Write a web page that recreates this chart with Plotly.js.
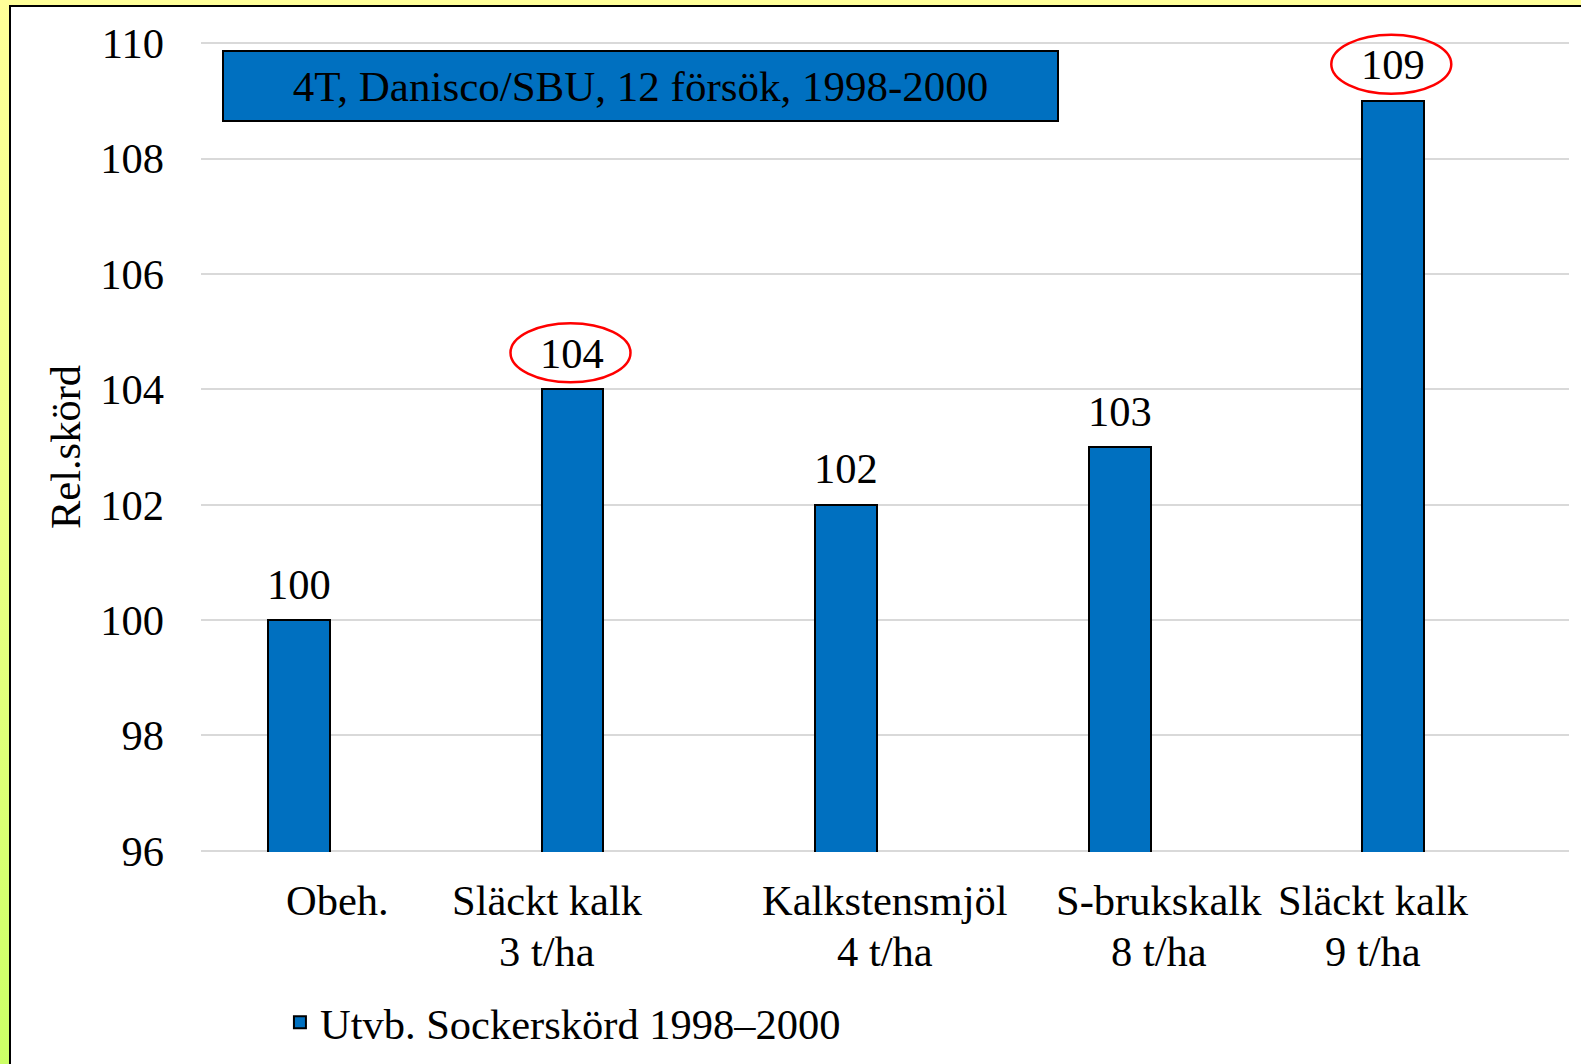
<!DOCTYPE html>
<html>
<head>
<meta charset="utf-8">
<script src="https://cdn.plot.ly/plotly-3.0.1.min.js"></script>
<style>
  html, body { margin: 0; padding: 0; width: 1581px; height: 1064px; overflow: hidden; }
  body { background: linear-gradient(180deg, #ffff99 0%, #eeff88 45%, #ccff66 100%); position: relative; }
  #frame { position: absolute; left: 9px; top: 5px; width: 1620px; height: 1120px; background: #ffffff; border: 2px solid #000; box-sizing: border-box; }
  #chart { position: absolute; left: 0; top: 0; width: 1581px; height: 1064px; }
</style>
</head>
<body>
<div id="frame"></div>
<div id="chart"></div>
<script>
// ---- data ----
const categories = ['Obeh.', 'Släckt kalk<br>3 t/ha', 'Kalkstensmjöl<br>4 t/ha', 'S-brukskalk<br>8 t/ha', 'Släckt kalk<br>9 t/ha'];
const values = [100, 104, 102, 103, 109];
const highlighted = [false, true, false, false, true];
const seriesName = 'Utvb. Sockerskörd 1998–2000';
const boxTitle = '4T, Danisco/SBU, 12 försök, 1998-2000';
const yTitle = 'Rel.skörd';
const yTicks = [96, 98, 100, 102, 104, 106, 108, 110];
const yRange = [95.98, 110.02];

// ---- style ----
const FONT = 'Liberation Serif, Times New Roman, serif';
const FS = 42.5;
const BLUE = '#0070C0';
const barWidth = 0.2266;
const barOffset = -0.2555;
const barShift = barOffset + barWidth / 2;
const labelXShift = [0, -64, 0, 0, -59];
const labelLineY = [-48.5, -99];

const trace = {
  type: 'bar',
  x: categories,
  y: values,
  name: seriesName,
  width: barWidth,
  offset: barOffset,
  marker: { color: BLUE, line: { color: '#000', width: 2 } },
  hoverinfo: 'y'
};

const annotations = [];
// category labels (one annotation per line, to match the line spacing)
categories.forEach((c, i) => {
  c.split('<br>').forEach((line, k) => {
    annotations.push({
      xref: 'x', yref: 'paper', x: i, y: 0,
      xanchor: 'center', yanchor: 'middle', yshift: labelLineY[k], xshift: labelXShift[i],
      text: line, showarrow: false,
      font: { family: FONT, size: FS, color: '#000' }
    });
  });
});
// value labels
values.forEach((v, i) => {
  annotations.push({
    xref: 'x', yref: 'y', x: i + barShift, y: v,
    xanchor: 'center', yanchor: 'middle', yshift: 36,
    text: String(v), showarrow: false,
    font: { family: FONT, size: FS, color: '#000' }
  });
});
// box title
annotations.push({
  xref: 'paper', yref: 'paper', x: 0.3213, y: 0.9452,
  xanchor: 'center', yanchor: 'middle',
  text: boxTitle, showarrow: false,
  width: 833, height: 68, borderpad: 0,
  bgcolor: BLUE, bordercolor: '#000', borderwidth: 2,
  font: { family: FONT, size: 43, color: '#000' }
});

const shapes = [];
values.forEach((v, i) => {
  if (!highlighted[i]) return;
  shapes.push({
    type: 'circle', xref: 'x', yref: 'paper',
    xsizemode: 'pixel', ysizemode: 'pixel',
    xanchor: i + barShift, yanchor: (v - yRange[0]) / (yRange[1] - yRange[0]),
    x0: -62, x1: 58, y0: 7, y1: 66,
    line: { color: '#ff0000', width: 2.5 },
    fillcolor: 'rgba(0,0,0,0)'
  });
});

const layout = {
  width: 1581, height: 1064,
  margin: { l: 201, r: 12, t: 42.4, b: 211.9, pad: 0, autoexpand: false },
  paper_bgcolor: 'rgba(0,0,0,0)',
  plot_bgcolor: 'rgba(0,0,0,0)',
  font: { family: FONT, size: FS, color: '#000' },
  showlegend: true,
  legend: {
    orientation: 'h', x: 0.0577, y: -0.2105, xanchor: 'left', yanchor: 'middle',
    font: { family: FONT, size: FS, color: '#000' }, bgcolor: 'rgba(0,0,0,0)'
  },
  xaxis: {
    type: 'category', showticklabels: false, showgrid: false, zeroline: false,
    showline: false, ticks: '', range: [-0.5, 4.5], fixedrange: true
  },
  yaxis: {
    range: yRange, tickvals: yTicks, ticktext: yTicks.map(String),
    showgrid: true, gridcolor: '#d9d9d9', gridwidth: 2, zeroline: false,
    showline: false, ticks: '', ticklabelstandoff: 36,
    tickfont: { family: FONT, size: FS, color: '#000' },
    title: { text: yTitle, standoff: 6, font: { family: FONT, size: FS, color: '#000' } },
    automargin: false, fixedrange: true
  },
  bargap: 0,
  annotations: annotations,
  shapes: shapes
};

Plotly.newPlot('chart', [trace], layout, { displayModeBar: false, responsive: false });
</script>
</body>
</html>
